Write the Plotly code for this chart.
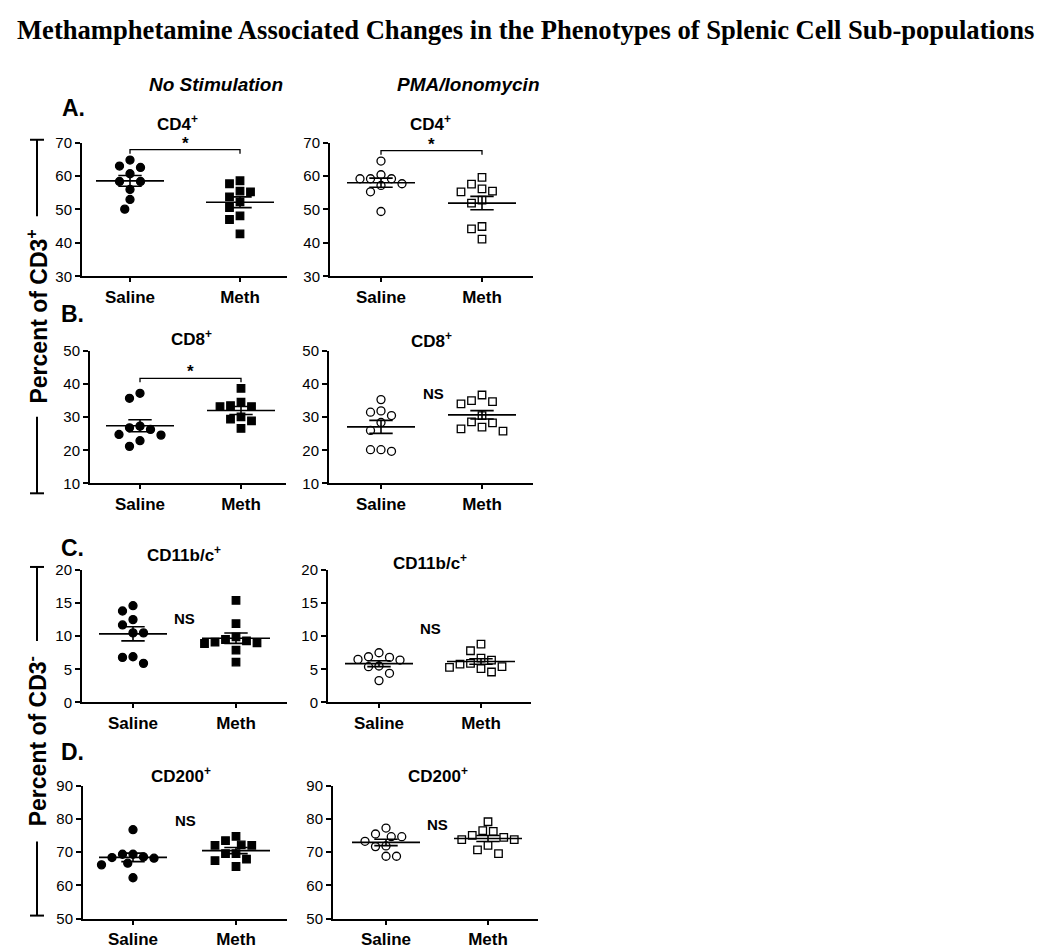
import numpy as np
import plotly.graph_objects as go

W, H = 1050, 948
OFF = 8  # page margin of the html body

groups = ["Saline", "Meth"]

# values (percent of parent population)
cd4_nostim_saline = [63.0, 64.8, 62.6, 58.4, 60.7, 58.4, 56.0, 53.0, 50.1]
cd4_nostim_meth = [55.5, 58.6, 57.7, 53.8, 55.3, 52.3, 50.6, 48.1, 47.0, 42.7]
cd4_pma_saline = [64.5, 59.2, 59.2, 59.2, 60.4, 57.2, 57.7, 55.3, 49.4]
cd4_pma_meth = [59.6, 57.6, 56.2, 55.5, 55.3, 52.8, 51.9, 44.9, 44.2, 41.1]

cd8_nostim_saline = [37.2, 35.7, 26.8, 24.8, 24.6, 26.3, 27.3, 22.9, 21.2]
cd8_nostim_meth = [38.7, 33.2, 33.5, 34.5, 33.2, 29.4, 30.1, 28.9, 26.6]
cd8_pma_saline = [35.3, 31.9, 30.5, 31.5, 28.4, 26.0, 20.2, 19.7, 20.2]
cd8_pma_meth = [36.7, 35.0, 34.0, 34.7, 30.5, 28.6, 28.3, 27.0, 26.5, 25.8]

cd11_nostim_saline = [14.6, 13.8, 12.5, 11.7, 10.5, 10.5, 6.9, 6.8, 5.9]
cd11_nostim_meth = [15.4, 11.9, 9.1, 8.9, 9.5, 9.9, 9.0, 9.3, 7.9, 6.1]
cd11_pma_saline = [6.9, 6.5, 7.5, 6.4, 6.8, 5.5, 5.4, 4.4, 3.3]
cd11_pma_meth = [8.8, 7.8, 6.7, 6.4, 5.8, 5.9, 5.3, 5.4, 5.1, 4.6]

cd200_nostim_saline = [76.8, 69.4, 68.4, 66.7, 66.2, 68.2, 68.6, 69.4, 62.3]
cd200_nostim_meth = [74.8, 73.5, 72.1, 72.1, 72.2, 69.6, 69.6, 67.9, 67.5, 65.7]
cd200_pma_saline = [77.3, 75.5, 74.7, 74.7, 73.3, 71.7, 71.9, 68.8, 68.8]
cd200_pma_meth = [79.2, 76.5, 76.3, 75.1, 74.5, 73.8, 73.8, 72.1, 70.7, 69.6]

# y ticks per row
yticks_cd4 = [30, 40, 50, 60, 70]
yticks_cd8 = [10, 20, 30, 40, 50]
yticks_cd11 = [0, 5, 10, 15, 20]
yticks_cd200 = [50, 60, 70, 80, 90]

# panel layout in window pixels: box (left, right, top, bottom), category pixel x
panels = [
    dict(sal=cd4_nostim_saline, meth=cd4_nostim_meth, open=False, ticks=yticks_cd4,
         box=(82, 287, 136, 272), cx=(130, 240), title="CD4<sup>+</sup>", tpos=(177, 116),
         sig="*", spos=67.9),
    dict(sal=cd4_pma_saline, meth=cd4_pma_meth, open=True, ticks=yticks_cd4,
         box=(330, 533, 136, 272), cx=(381, 482), title="CD4<sup>+</sup>", tpos=(430, 116),
         sig="*", spos=67.6),
    dict(sal=cd8_nostim_saline, meth=cd8_nostim_meth, open=False, ticks=yticks_cd8,
         box=(90, 286, 348, 483), cx=(140, 241), title="CD8<sup>+</sup>", tpos=(191, 335),
         sig="*", spos=41.7),
    dict(sal=cd8_pma_saline, meth=cd8_pma_meth, open=True, ticks=yticks_cd8,
         box=(329, 533, 348, 483), cx=(381, 482), title="CD8<sup>+</sup>", tpos=(431, 337),
         sig="NS", npos=(433, 391)),
    dict(sal=cd11_nostim_saline, meth=cd11_nostim_meth, open=False, ticks=yticks_cd11,
         box=(82, 287, 571, 706), cx=(133, 236), title="CD11b/c<sup>+</sup>", tpos=(184, 555),
         sig="NS", npos=(184, 620)),
    dict(sal=cd11_pma_saline, meth=cd11_pma_meth, open=True, ticks=yticks_cd11,
         box=(328, 531, 571, 706), cx=(379, 481), title="CD11b/c<sup>+</sup>", tpos=(430, 563),
         sig="NS", npos=(430, 631)),
    dict(sal=cd200_nostim_saline, meth=cd200_nostim_meth, open=False, ticks=yticks_cd200,
         box=(83, 287, 791, 926), cx=(133, 236), title="CD200<sup>+</sup>", tpos=(181, 780),
         sig="NS", npos=(185, 826)),
    dict(sal=cd200_pma_saline, meth=cd200_pma_meth, open=True, ticks=yticks_cd200,
         box=(333, 538, 791, 926), cx=(386, 488), title="CD200<sup>+</sup>", tpos=(438, 780),
         sig="NS", npos=(437, 830)),
]

SANS = "Liberation Sans, Arial, sans-serif"


def px(x):
    return (x - OFF) / W


def py(y):
    return 1 - (y - OFF) / H


def text(t, x, y, size, family=SANS, **kw):
    d = dict(text=t, x=px(x), y=py(y), xref="paper", yref="paper", showarrow=False,
             xanchor="center", yanchor="middle",
             font=dict(family=family, size=size, color="black"))
    d.update(kw)
    return d


def swarm(values, center, px_per_x, px_per_y, step=10.5):
    # simple beeswarm, like the GraphPad column scatter
    values = np.asarray(values, dtype=float)
    order = np.argsort(-values, kind="stable")
    cands = [0.0]
    for n in range(1, 30):
        cands += [-0.5 * n, 0.5 * n]
    placed = []
    xs = np.zeros(len(values))
    for i in order:
        v = values[i]
        for c in cands:
            ok = True
            for ox, oy in placed:
                dx = (c - ox) * step
                dy = (v - oy) * px_per_y
                if dx * dx + dy * dy < step * step * 0.92:
                    ok = False
                    break
            if ok:
                break
        placed.append((c, v))
        xs[i] = center + c * step / px_per_x
    return xs


fig = go.Figure()
annotations = []
shapes = []

for k, p in enumerate(panels):
    n = "" if k == 0 else str(k + 1)
    xa, ya = "x" + n, "y" + n
    left, right, top, bottom = p["box"]
    sal_px, meth_px = p["cx"]
    spacing = meth_px - sal_px
    xr = [(left - sal_px) / spacing, (right - sal_px) / spacing]
    ticks = p["ticks"]
    yr = [ticks[0], ticks[-1]]
    px_per_y = (bottom - top) / (yr[1] - yr[0])

    for gi, (vals, sym) in enumerate([(p["sal"], "circle"), (p["meth"], "square")]):
        xs = swarm(vals, gi, spacing, px_per_y)
        symbol = sym + "-open" if p["open"] else sym
        fig.add_trace(go.Scatter(
            x=xs, y=vals, mode="markers", xaxis=xa, yaxis=ya, showlegend=False,
            marker=dict(symbol=symbol, size=8 if sym == "circle" else 7.5, color="black",
                        line=dict(color="black", width=1.3)),
            cliponaxis=False,
        ))
        # mean line and SEM bar
        m = float(np.mean(vals))
        sem = float(np.std(vals, ddof=1) / np.sqrt(len(vals)))
        hw, cw = 34 / spacing, 11.7 / spacing
        lx = [gi - hw, gi + hw, None, gi - cw, gi + cw, None, gi - cw, gi + cw, None, gi, gi]
        ly = [m, m, None, m + sem, m + sem, None, m - sem, m - sem, None, m - sem, m + sem]
        fig.add_trace(go.Scatter(
            x=lx, y=ly, mode="lines", xaxis=xa, yaxis=ya, showlegend=False,
            line=dict(color="black", width=1.6), hoverinfo="skip",
        ))

    fig.layout["xaxis" + n] = dict(
        domain=[px(left), px(right)], range=xr, anchor=ya,
        tickvals=[0, 1], ticktext=groups, ticks="outside", ticklen=4, tickwidth=1.5,
        tickcolor="black", showline=True, linecolor="black", linewidth=2,
        showgrid=False, zeroline=False,
        tickfont=dict(family=SANS, size=17, color="black", weight="bold"),
    )
    fig.layout["yaxis" + n] = dict(
        domain=[py(bottom), py(top)], range=yr, anchor=xa,
        tickvals=ticks, ticks="outside", ticklen=5, tickwidth=1.5, tickcolor="black",
        showline=True, linecolor="black", linewidth=2, showgrid=False, zeroline=False,
        tickfont=dict(family=SANS, size=15, color="black"),
    )

    tx, ty = p["tpos"]
    annotations.append(text("<b>" + p["title"] + "</b>", tx, ty, 17))

    if p["sig"] == "*":
        by = p["spos"]
        drop = (yr[1] - yr[0]) * 4 / (bottom - top)
        shapes.append(dict(
            type="path", xref=xa, yref=ya,
            path=f"M 0,{by - drop} L 0,{by} L 1,{by} L 1,{by - drop}",
            line=dict(color="black", width=1.3),
        ))
        annotations.append(dict(
            text="<b>*</b>", x=0.5, y=by, xref=xa, yref=ya, showarrow=False,
            xanchor="center", yanchor="bottom", yshift=-5,
            font=dict(family=SANS, size=17, color="black"),
        ))
    else:
        nx, ny = p["npos"]
        annotations.append(text("<b>NS</b>", nx, ny, 15))

# main title and column headers
annotations.append(text(
    "<b>Methamphetamine Associated Changes in the Phenotypes of Splenic Cell Sub-populations</b>",
    525, 21, 26.6, family="Liberation Serif, Times New Roman, serif"))
annotations.append(text("<b><i>No Stimulation</i></b>", 216, 77, 19))
annotations.append(text("<b><i>PMA/Ionomycin</i></b>", 469, 77, 19))

# panel letters
for letter, lx, ly in [("A.", 73, 101), ("B.", 72, 310), ("C.", 72, 549), ("D.", 72, 756)]:
    annotations.append(text("<b>" + letter + "</b>", lx, ly, 23))

# left y labels with bracket lines
for label, top, bottom in [("Percent of CD3<sup>+</sup>", 133, 493),
                           ("Percent of CD3<sup>-</sup>", 568, 923)]:
    mid = (top + bottom) / 2
    annotations.append(text("<b>" + label + "</b>", 37, mid, 23, textangle=-90))
    half = 102
    for y0, y1 in [(top, mid - half), (mid + half, bottom)]:
        shapes.append(dict(type="line", xref="paper", yref="paper",
                           x0=px(37), x1=px(37), y0=py(y0), y1=py(y1),
                           line=dict(color="black", width=2)))
    for yc in [top, bottom]:
        shapes.append(dict(type="line", xref="paper", yref="paper",
                           x0=px(30), x1=px(44), y0=py(yc), y1=py(yc),
                           line=dict(color="black", width=2)))

fig.update_layout(
    width=W, height=H, margin=dict(l=0, r=0, t=0, b=0),
    paper_bgcolor="white", plot_bgcolor="white",
    annotations=annotations, shapes=shapes, showlegend=False,
)

fig.write_html("out.html")
